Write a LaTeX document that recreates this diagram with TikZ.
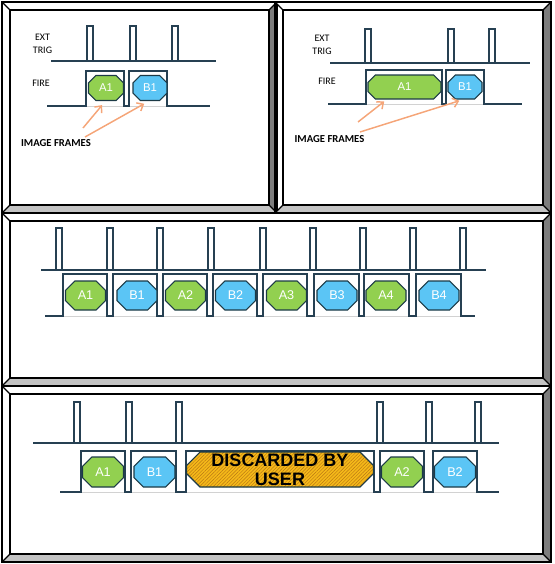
\documentclass[tikz,border=0pt]{standalone}
\usepackage{fontspec}
\setmainfont{Liberation Sans}
\newfontfamily\calib{Carlito}
\usetikzlibrary{arrows.meta,patterns.meta}

% octagon shaped node: a rectangle with cut corners
\makeatletter
\newdimen\octxa \newdimen\octya \newdimen\octxb \newdimen\octyb \newdimen\octc
\pgfkeys{/pgf/octagon cut/.initial=5pt}
\pgfdeclareshape{octagon box}{%
  \inheritsavedanchors[from=rectangle]
  \inheritanchorborder[from=rectangle]
  \inheritanchor[from=rectangle]{center}
  \inheritanchor[from=rectangle]{north}
  \inheritanchor[from=rectangle]{south}
  \inheritanchor[from=rectangle]{east}
  \inheritanchor[from=rectangle]{west}
  \inheritanchor[from=rectangle]{north east}
  \inheritanchor[from=rectangle]{north west}
  \inheritanchor[from=rectangle]{south east}
  \inheritanchor[from=rectangle]{south west}
  \inheritanchor[from=rectangle]{mid}
  \inheritanchor[from=rectangle]{base}
  \backgroundpath{%
    \southwest \octxa=\pgf@x \octya=\pgf@y
    \northeast \octxb=\pgf@x \octyb=\pgf@y
    \pgfmathsetlength\octc{\pgfkeysvalueof{/pgf/octagon cut}}%
    \pgfpathmoveto{\pgfqpoint{\dimexpr\octxa+\octc\relax}{\octya}}%
    \pgfpathlineto{\pgfqpoint{\dimexpr\octxb-\octc\relax}{\octya}}%
    \pgfpathlineto{\pgfqpoint{\octxb}{\dimexpr\octya+\octc\relax}}%
    \pgfpathlineto{\pgfqpoint{\octxb}{\dimexpr\octyb-\octc\relax}}%
    \pgfpathlineto{\pgfqpoint{\dimexpr\octxb-\octc\relax}{\octyb}}%
    \pgfpathlineto{\pgfqpoint{\dimexpr\octxa+\octc\relax}{\octyb}}%
    \pgfpathlineto{\pgfqpoint{\octxa}{\dimexpr\octyb-\octc\relax}}%
    \pgfpathlineto{\pgfqpoint{\octxa}{\dimexpr\octya+\octc\relax}}%
    \pgfpathclose
  }%
}
\makeatother

\definecolor{sigcol}{RGB}{38,64,82}
\definecolor{frmA}{RGB}{146,208,80}
\definecolor{frmB}{RGB}{91,197,245}
\definecolor{octedge}{RGB}{28,58,70}
\definecolor{hintcol}{RGB}{245,165,120}
\definecolor{goldcol}{RGB}{245,185,25}
\definecolor{hatchcol}{RGB}{185,120,20}
\definecolor{bevelR}{RGB}{125,125,125}
\definecolor{bevelB}{RGB}{195,195,195}

\tikzset{
  sigline/.style={draw=sigcol, line width=1.1pt, line join=miter},
  faintline/.style={draw=gray!35, line width=0.6pt},
  panelline/.style={draw=black, line width=1pt},
  oct/.style={octagon box, octagon cut=5.5pt, draw=octedge, line width=0.8pt,
    inner sep=0pt, outer sep=0pt, text=white, font=\fontsize{8.5}{10}\selectfont},
  octA/.style={oct, fill=frmA},
  octB/.style={oct, fill=frmB},
  oct4/.style={minimum width=30.75pt, minimum height=22.5pt, octagon cut=7pt,
    font=\fontsize{9.5}{11}\selectfont},
  octD/.style={octagon box, octagon cut=10pt, draw=octedge, line width=0.8pt,
    inner sep=0pt, outer sep=0pt,
    preaction={fill=goldcol}, pattern={Lines[angle=45,distance=1.8pt,line width=0.35pt]},
    pattern color=hatchcol, align=center, text=black,
    font=\bfseries\fontsize{13.5}{14.5}\selectfont},
  lbl/.style={align=center, inner sep=0pt, font=\calib\fontsize{7.5}{10}\selectfont},
  framelbl/.style={inner sep=0pt, font=\calib\bfseries\fontsize{8}{10}\selectfont},
  hintarrow/.style={draw=hintcol, line width=1.1pt, -{Straight Barb[length=4pt,width=7pt]}}
}

% bevelled panel: x1 y1 x2 y2
\newcommand{\bevelpanel}[4]{%
  \fill[white] (#1,#2) -- (#3,#2) -- ({#3-8},{#2+8}) -- ({#1+8},{#2+8}) -- cycle;
  \fill[bevelR] (#3,#2) -- (#3,#4) -- ({#3-8},{#4-8}) -- ({#3-8},{#2+8}) -- cycle;
  \fill[bevelB] (#1,#4) -- (#3,#4) -- ({#3-8},{#4-8}) -- ({#1+8},{#4-8}) -- cycle;
  \draw[panelline] (#1,#2) rectangle (#3,#4);
  \draw[panelline] ({#1+8},{#2+8}) rectangle ({#3-8},{#4-8});
  \draw[panelline] (#1,#2) -- ++(8,8) (#3,#2) -- ++(-8,8)
    (#1,#4) -- ++(8,-8) (#3,#4) -- ++(-8,-8);
}
% trigger line: base y, start x, end x, top y, pulse list
\newcommand{\trigline}[5]{%
  \draw[sigline] (#2,#1) -- (#3,#1);
  \foreach \p in {#5} \draw[sigline] (\p,#1) -- (\p,#4) -- ({\p+6},#4) -- ({\p+6},#1);
}
% fire line: base y, start x, end x, top y, pulse list l/r
\newcommand{\fireline}[5]{%
  \draw[sigline] (#2,#1) foreach \l/\r in {#5} { -- (\l,#1) -- (\l,#4) -- (\r,#4) -- (\r,#1) } -- (#3,#1);
}

\begin{document}
\begin{tikzpicture}[x=0.75pt,y=0.75pt,yscale=-1,xscale=1]
\useasboundingbox (0,0) rectangle (554,564);

%Panels
\bevelpanel{2}{2}{277}{213}
\bevelpanel{275}{2}{551}{213}
\bevelpanel{2}{213}{551}{386}
\bevelpanel{2}{386}{551}{562}

%Panel 1
\trigline{61}{51}{216}{26}{87,130,172}
\draw[faintline] (86,106) -- (167,106);
\fireline{106}{47}{210}{71}{86/124,129/167}
% Text Node
\node[lbl] (p1trig) at (42.5,44) {EXT\\TRIG};
% Text Node
\node[lbl] (p1fire) at (41,83) {FIRE};
\node[octA, minimum width=26.25pt, minimum height=18.75pt] (p1a1) at (106,88) {A1};
\node[octB, minimum width=25.5pt, minimum height=18.75pt] (p1b1) at (150,88) {B1};
% Text Node
\node[framelbl] (p1frames) at (56,143) {IMAGE FRAMES};
\coordinate (p1t1) at (83,128);
\coordinate (p1t2) at (85,137);
\draw[hintarrow, shorten >=4.5pt] (p1t1) -- (p1a1.south);
\draw[hintarrow, shorten >=5pt] (p1t2) -- (p1b1.south);

%Panel 2
\trigline{63}{330}{530}{29}{365,448,489}
\draw[faintline] (366,104) -- (484,104);
\fireline{104}{328}{522}{70}{366/442,446/484}
% Text Node
\node[lbl] (p2trig) at (322,44.5) {EXT\\TRIG};
% Text Node
\node[lbl] (p2fire) at (327,81) {FIRE};
\node[octA, minimum width=54.75pt, minimum height=18pt] (p2a1) at (404.5,87) {A1};
\node[octB, minimum width=25.5pt, minimum height=18pt] (p2b1) at (465,87) {B1};
% Text Node
\node[framelbl] (p2frames) at (329.5,139) {IMAGE FRAMES};
\coordinate (p2t1) at (358,122);
\coordinate (p2t2) at (360,132);
\draw[hintarrow, shorten >=3pt] (p2t1) -- (p2a1.215);
\draw[hintarrow, shorten >=4.5pt] (p2t2) -- (p2b1.south);

%Panel 3
\trigline{270}{41}{486}{228}{56,107,157,208,260,310,360,410,460}
\draw[faintline] (63,316) -- (461,316);
\fireline{316}{45}{475}{274}{63/107,113/157,163/207,213/257,263/307,314/359,364/409,416/461}
\foreach \nm/\st/\cx in {a1/octA/85.5, b1/octB/137, a2/octA/185.5, b2/octB/235.5,
    a3/octA/286.5, b3/octB/337, a4/octA/386, b4/octB/439}
  \node[\st, oct4, minimum width=30pt, minimum height=21.75pt]
    (p3\nm) at (\cx,295.5) {\MakeUppercase{\nm}};

%Panel 4
\trigline{443}{33}{499}{402}{74,126,176,377,426,475}
\draw[faintline] (81,492) -- (477,492);
\fireline{492}{60}{499}{451}{81/125,131/176,186/374,380/424,433/477}
\node[octA, oct4] (p4a1) at (103,472) {A1};
\node[octB, oct4] (p4b1) at (154.5,472) {B1};
\node[octD, minimum width=140pt, minimum height=26.25pt] (p4skip) at (280,469.5) {DISCARDED BY\\USER};
\node[octA, oct4] (p4a2) at (402,472) {A2};
\node[octB, oct4] (p4b2) at (455,472) {B2};
\end{tikzpicture}
\end{document}
